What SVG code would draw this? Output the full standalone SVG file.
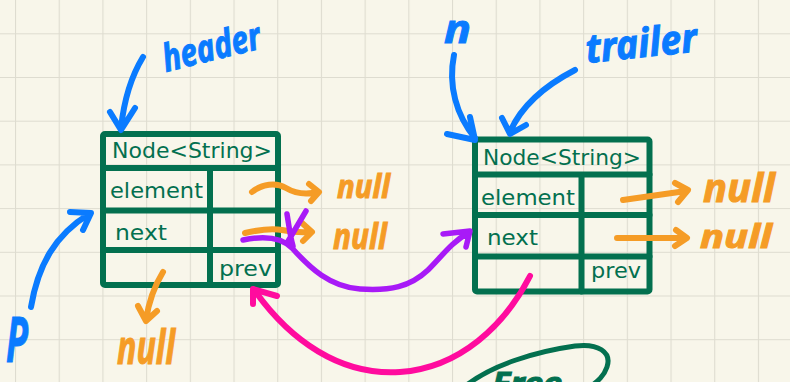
<svg xmlns="http://www.w3.org/2000/svg" width="790" height="382" viewBox="0 0 790 382">
  <defs>
    <!-- squared notebook paper -->
    <pattern id="grid" x="15" y="33.3" width="43.7" height="43.7" patternUnits="userSpaceOnUse">
      <path d="M0,0 H43.7 M0,0 V43.7" fill="none" stroke="#dedcd0" stroke-width="2.2"/>
    </pattern>
    <style>
      .box { fill: none; stroke: #03704f; stroke-width: 6; stroke-linejoin: round; stroke-linecap: round; }
      .cell { font-family: "DejaVu Sans", "Liberation Sans", sans-serif; font-size: 21px; fill: #03704f; }
      .pen { fill: none; stroke-linecap: round; stroke-linejoin: round; }
      .blue { stroke: #0a7bff; stroke-width: 6; }
      .orange { stroke: #f59c26; stroke-width: 6; }
      .purple { stroke: #a81af7; stroke-width: 5.5; }
      .pink { stroke: #ff0b9e; stroke-width: 6; }
      .green { stroke: #03704f; stroke-width: 5; }
      .hand { font-family: "Noto Sans", "DejaVu Sans", sans-serif; font-style: italic; font-weight: 700; }
      .tblue { fill: #0a7bff; stroke: #0a7bff; stroke-width: 1; }
      .torange { fill: #f59c26; stroke: #f59c26; stroke-width: 1; }
      .tgreen { fill: #03704f; stroke: #03704f; stroke-width: 1; }
    </style>
  </defs>

  <rect width="790" height="382" fill="#f8f6ea"/>
  <rect width="790" height="382" fill="url(#grid)"/>

  <!-- first node -->
  <g id="node-a">
    <rect class="box" x="103" y="134" width="175" height="151" rx="2"/>
    <path class="box" d="M103,168 H278 M103,210.5 H278 M103,250 H278 M210,168 V285"/>
    <text class="cell" x="112" y="158" textLength="160" lengthAdjust="spacingAndGlyphs">Node&lt;String&gt;</text>
    <text class="cell" x="110" y="198" textLength="93" lengthAdjust="spacingAndGlyphs">element</text>
    <text class="cell" x="115" y="240" textLength="52" lengthAdjust="spacingAndGlyphs">next</text>
    <text class="cell" x="219" y="276" textLength="53" lengthAdjust="spacingAndGlyphs">prev</text>
  </g>

  <!-- second node -->
  <g id="node-b">
    <rect class="box" x="475" y="139.5" width="174.5" height="152" rx="2"/>
    <path class="box" d="M475,174.5 H649.5 M475,215 H649.5 M475,256.5 H649.5 M581.5,174.5 V291.5"/>
    <text class="cell" x="483" y="165" textLength="158" lengthAdjust="spacingAndGlyphs">Node&lt;String&gt;</text>
    <text class="cell" x="481" y="205" textLength="94" lengthAdjust="spacingAndGlyphs">element</text>
    <text class="cell" x="487" y="245" textLength="51" lengthAdjust="spacingAndGlyphs">next</text>
    <text class="cell" x="591" y="278" textLength="50" lengthAdjust="spacingAndGlyphs">prev</text>
  </g>

  <!-- reference labels -->
  <g id="label-header">
    <text class="hand tblue" transform="translate(166,72) rotate(-14)" font-size="38" textLength="100" lengthAdjust="spacingAndGlyphs">header</text>
  </g>
  <g id="label-trailer">
    <text class="hand tblue" transform="translate(587,63) rotate(-6)" font-size="40" textLength="112" lengthAdjust="spacingAndGlyphs">trailer</text>
  </g>
  <g id="label-n">
    <text class="hand tblue" x="444" y="43" font-size="40" textLength="27" lengthAdjust="spacingAndGlyphs">n</text>
  </g>
  <g id="label-p">
    <text class="hand tblue" x="6" y="362" font-size="62" textLength="22" lengthAdjust="spacingAndGlyphs">P</text>
  </g>

  <!-- null targets -->
  <g id="null-a-element"><text class="hand torange" x="337" y="198" font-size="32" textLength="53" lengthAdjust="spacingAndGlyphs">null</text></g>
  <g id="null-a-next"><text class="hand torange" x="333" y="249" font-size="36" textLength="54" lengthAdjust="spacingAndGlyphs">null</text></g>
  <g id="null-b-element"><text class="hand torange" x="703" y="202" font-size="40" textLength="72" lengthAdjust="spacingAndGlyphs">null</text></g>
  <g id="null-b-next"><text class="hand torange" x="700" y="248" font-size="32" textLength="72" lengthAdjust="spacingAndGlyphs">null</text></g>
  <g id="null-a-prev"><text class="hand torange" x="117" y="364" font-size="46" textLength="58" lengthAdjust="spacingAndGlyphs">null</text></g>

  <!-- circled note at the bottom edge -->
  <g id="note-free">
    <path class="pen green" d="M468,384 C492,366 532,352 575,346 C598,343 612,352 607,367 C604,376 598,381 590,387"/>
    <text class="hand tgreen" x="492" y="394" font-size="30" textLength="70" lengthAdjust="spacingAndGlyphs">Free</text>
  </g>

  <!-- pointers -->
  <g id="connectors">
    <!-- header / trailer / n / p references -->
    <path class="pen blue" d="M143,57 C132,75 124,100 121,128 M110,112 L121,130 L135,108"/>
    <path class="pen blue" d="M454,55 C448,85 456,115 475,138 M447,134 L475,140 L470,117"/>
    <path class="pen blue" d="M575,70 C548,84 522,104 510,132 M502,118 L510,134 L526,125"/>
    <path class="pen blue" d="M31,307 C38,265 55,235 89,214 M70,212 L91,213 L83,230"/>

    <!-- fields pointing to null -->
    <path class="pen orange" d="M252,192 C262,184 276,182 286,188 C296,194 306,195 318,192 M309,184 L319,192 L311,201"/>
    <path class="pen orange" d="M245,233 C258,230 272,228 282,230 C292,232 300,233 311,232 M302,223 L312,232 L303,241"/>
    <path class="pen orange" d="M623,200 L686,191 M675,183 L688,190 L678,202"/>
    <path class="pen orange" d="M617,238 L686,238 M676,230 L687,238 L675,246"/>
    <path class="pen orange" d="M163,272 C155,285 149,300 146,320 M138,306 L146,321 L157,311"/>

    <!-- new next link, crossing out the old one -->
    <path class="pen purple" d="M243,240 C262,236 280,236 292,248 C310,268 330,287 360,289 C390,291 410,287 428,270 C442,256 452,242 468,233 M443,234 L470,231 L466,247"/>
    <path class="pen purple" d="M306,211 L287,243 M287,214 C289,226 290,236 293,246"/>

    <!-- prev link back to the first node -->
    <path class="pen pink" d="M530,276 C505,325 460,368 400,372 C340,376 290,340 255,291 M253,304 L253,289 L277,296"/>
  </g>
</svg>
